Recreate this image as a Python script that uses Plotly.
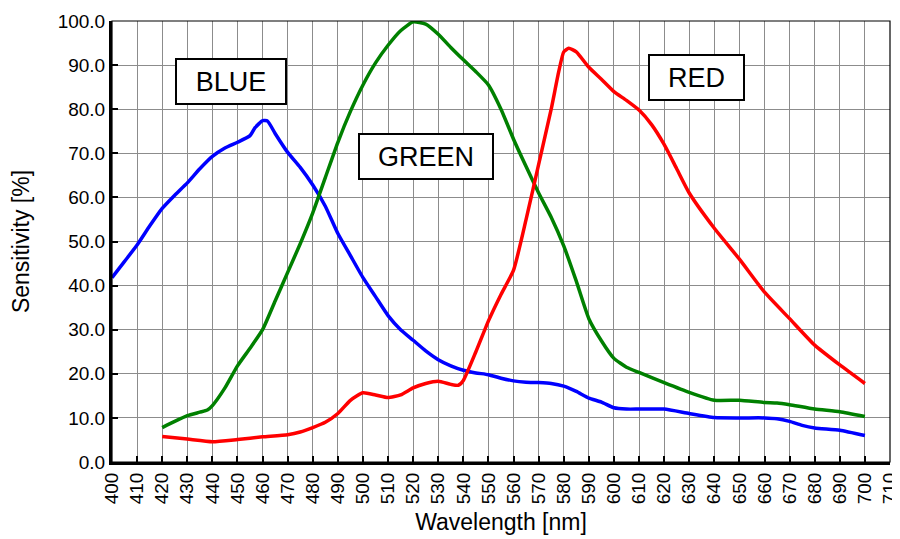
import plotly.graph_objects as go

# Wavelength samples [nm] and sensitivities [%]
blue_wl = [400, 405, 410, 415, 420, 425, 430, 435, 440, 445, 450, 455, 457, 460, 462, 465, 470, 475, 480, 485, 490, 495, 500, 505, 510, 515, 520, 525, 530, 535, 540, 545, 550, 555, 560, 565, 570, 575, 580, 585, 590, 595, 600, 605, 610, 620, 630, 640, 650, 660, 665, 670, 675, 680, 690, 700]
blue_val = [41.8, 45.5, 49.2, 53.5, 57.5, 60.5, 63.3, 66.5, 69.3, 71.2, 72.5, 74.0, 75.8, 77.4, 77.3, 74.5, 70.2, 66.8, 62.8, 58.0, 51.8, 46.8, 41.8, 37.5, 33.2, 30.0, 27.6, 25.2, 23.2, 21.8, 20.8, 20.2, 19.8, 19.0, 18.4, 18.1, 18.0, 17.8, 17.2, 16.0, 14.5, 13.6, 12.3, 12.0, 12.0, 12.0, 11.0, 10.1, 10.0, 10.0, 9.8, 9.2, 8.3, 7.7, 7.2, 6.0]

green_wl = [420, 425, 430, 435, 438, 440, 445, 450, 455, 460, 465, 470, 475, 480, 485, 490, 495, 500, 505, 510, 515, 520, 525, 530, 535, 540, 545, 550, 555, 560, 565, 570, 575, 580, 585, 590, 595, 600, 605, 610, 620, 630, 640, 650, 660, 665, 670, 680, 690, 700]
green_val = [7.8, 9.2, 10.5, 11.3, 11.8, 12.8, 16.8, 21.8, 25.8, 30.0, 36.5, 43.0, 49.5, 56.5, 64.5, 72.5, 79.5, 85.5, 90.5, 94.5, 97.8, 99.8, 99.3, 97.0, 94.0, 91.2, 88.5, 85.5, 80.0, 73.2, 67.0, 61.0, 55.5, 49.0, 41.0, 32.5, 27.5, 23.5, 21.5, 20.3, 18.0, 15.8, 14.0, 14.0, 13.5, 13.4, 13.0, 12.0, 11.4, 10.3]

red_wl = [420, 430, 440, 450, 460, 470, 475, 480, 485, 490, 495, 500, 505, 510, 515, 520, 525, 530, 535, 538, 540, 545, 550, 555, 560, 565, 570, 575, 578, 580, 582, 585, 590, 595, 600, 605, 610, 615, 620, 625, 630, 640, 650, 660, 670, 680, 690, 700]
red_val = [5.8, 5.2, 4.6, 5.1, 5.7, 6.2, 6.8, 7.8, 9.0, 11.0, 14.0, 15.7, 15.2, 14.6, 15.2, 16.8, 17.8, 18.3, 17.6, 17.4, 18.5, 25.0, 32.0, 38.0, 43.5, 55.0, 67.5, 80.0, 88.5, 93.0, 93.8, 93.0, 89.5, 86.8, 84.0, 82.0, 79.8, 76.5, 72.0, 66.5, 61.0, 53.0, 46.0, 38.5, 32.5, 26.5, 22.0, 17.8]

labels = ["BLUE", "GREEN", "RED"]
label_x = [447.5, 525.0, 633.0]
label_y = [86.2, 69.2, 87.3]
label_w = [106, 130, 91]

x_ticks = list(range(400, 711, 10))
y_ticks = list(range(0, 101, 10))

FONT = "Liberation Sans, Arial, sans-serif"

fig = go.Figure()
for wl, val, col, name in [(blue_wl, blue_val, "#0000FF", "BLUE"),
                           (green_wl, green_val, "#008000", "GREEN"),
                           (red_wl, red_val, "#FF0000", "RED")]:
    fig.add_trace(go.Scatter(x=wl, y=val, mode="lines", name=name,
                             line=dict(color=col, width=3.5, shape="spline", smoothing=0.5),
                             showlegend=False, hoverinfo="x+y"))

for t, x, y, w in zip(labels, label_x, label_y, label_w):
    fig.add_annotation(x=x, y=y, xref="x", yref="y", text=t, showarrow=False,
                       font=dict(family=FONT, size=27, color="black"),
                       bgcolor="white", bordercolor="black", borderwidth=2, borderpad=1,
                       width=w, height=41)

# thin frame around the plot area
fig.add_shape(type="rect", xref="paper", yref="paper", x0=0, y0=0, x1=1, y1=1,
              line=dict(color="black", width=1.2), layer="above")

fig.update_layout(
    width=900, height=539,
    margin=dict(l=104, r=18, t=13, b=85),
    paper_bgcolor="white", plot_bgcolor="white",
    font=dict(family=FONT, size=19, color="black"),
    xaxis=dict(range=[400, 710], tickvals=x_ticks, ticktext=[str(v) for v in x_ticks],
               tickangle=-90, showgrid=True, gridcolor="#8c8c8c", gridwidth=1,
               showline=True, linecolor="black", linewidth=3,
               ticks="inside", ticklen=6, tickwidth=2, tickcolor="black",
               title=dict(text="Wavelength [nm]", font=dict(size=23), standoff=11),
               zeroline=False, fixedrange=True, automargin=False),
    yaxis=dict(range=[0, 100], tickvals=y_ticks, ticktext=[f"{v:.1f}" for v in y_ticks],
               showgrid=True, gridcolor="#8c8c8c", gridwidth=1,
               showline=True, linecolor="black", linewidth=3,
               ticks="inside", ticklen=6, tickwidth=2, tickcolor="black",
               title=dict(text="Sensitivity [%]", font=dict(size=23), standoff=22),
               zeroline=False, fixedrange=True, automargin=False),
)

fig.write_html("out.html")
